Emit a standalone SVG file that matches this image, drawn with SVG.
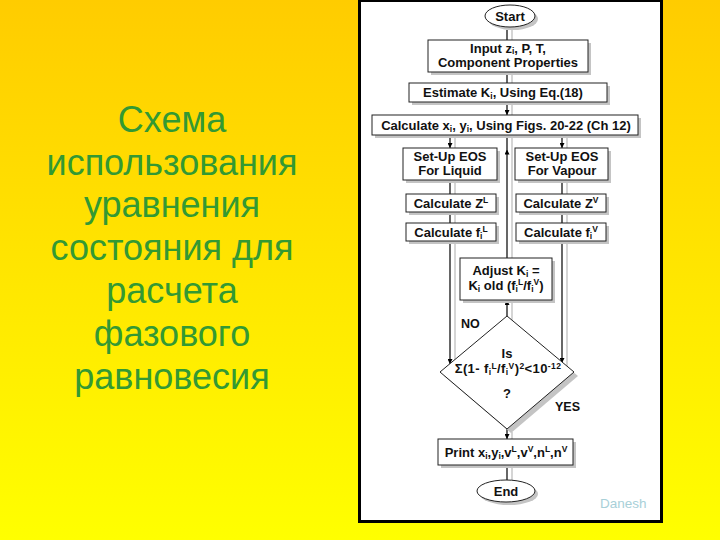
<svg xmlns="http://www.w3.org/2000/svg" width="720" height="540" viewBox="0 0 720 540">
<defs>
<linearGradient id="bg" x1="0" y1="0" x2="0" y2="1">
<stop offset="0" stop-color="#ffcc00"/>
<stop offset="1" stop-color="#ffff00"/>
</linearGradient>
<marker id="ah" viewBox="0 0 10 10" refX="10" refY="5" markerWidth="5" markerHeight="5" orient="auto" markerUnits="userSpaceOnUse">
<path d="M0,0 L10,5 L0,10 z" fill="#000"/>
</marker>
<marker id="ahm" viewBox="0 0 10 10" refX="5" refY="5" markerWidth="5" markerHeight="5" orient="auto" markerUnits="userSpaceOnUse">
<path d="M0,0 L10,5 L0,10 z" fill="#000"/>
</marker>
</defs>
<style>
.title{font-family:"Liberation Sans",Arial,sans-serif;font-size:36px;fill:#339933;text-anchor:middle}
.t{font-family:"Liberation Sans",Arial,sans-serif;font-size:13px;font-weight:bold;fill:#111;text-anchor:middle}
.box{fill:#fff;stroke:#222;stroke-width:1}
.sh{fill:#c4c4c4;stroke:none}
.ln{stroke:#000;stroke-width:1.2;fill:none}
.sl{stroke:#c8c8c8;stroke-width:1.5;fill:none}
.sub{font-size:8.5px}
.lbl{font-family:"Liberation Sans",Arial,sans-serif;font-size:12.5px;font-weight:bold;fill:#111}
</style>
<rect x="0" y="0" width="720" height="540" fill="url(#bg)"/>
<g id="title">
<text class="title" x="172" y="132">Схема</text>
<text class="title" x="172" y="175">использования</text>
<text class="title" x="172" y="217">уравнения</text>
<text class="title" x="172" y="260">состояния для</text>
<text class="title" x="172" y="303">расчета</text>
<text class="title" x="172" y="346">фазового</text>
<text class="title" x="172" y="389">равновесия</text>
</g>
<rect id="panel" x="359.5" y="0.5" width="302" height="521" fill="#fff" stroke="#000" stroke-width="3"/>
<g id="connectors">
<g class="shadows">
<path class="sl" d="M512,30 V115 M455,138 V150 M455,183 V366 M567,138 V150 M567,183 V366 M512,138 V258 M512,302 V320 M512,432 V440 M512,468 V481"/>
</g>
<path class="ln" d="M507,30 V40 M507,72 V83"/>
<path class="ln" d="M507,102 V115" marker-end="url(#ah)"/>
<path class="ln" d="M450,135 V148" marker-end="url(#ah)"/>
<path class="ln" d="M450,180 V364" marker-end="url(#ah)"/>
<path class="ln" d="M562,135 V148" marker-end="url(#ah)"/>
<path class="ln" d="M562,180 V363" marker-end="url(#ah)"/>
<path class="ln" d="M507,316 V300" marker-end="url(#ah)"/>
<path class="ln" d="M507,258 L507,152 L507,135" marker-mid="url(#ahm)"/>
<path class="ln" d="M507,429 V439" marker-end="url(#ah)"/>
<path class="ln" d="M507,465 V480"/>
</g>
<g id="start">
<ellipse class="sh" cx="513" cy="19" rx="25" ry="11"/>
<ellipse class="box" cx="510" cy="16" rx="25" ry="11"/>
<text class="t" x="510" y="21">Start</text>
</g>
<g id="input">
<rect class="sh" x="431" y="43" width="160" height="32"/>
<rect class="box" x="428" y="40" width="160" height="32"/>
<text class="t" x="508" y="52.5">Input z<tspan class="sub" dy="1.5">i</tspan><tspan dy="-1.5">, P, T,</tspan></text>
<text class="t" x="508" y="67">Component Properties</text>
</g>
<g id="estimate">
<rect class="sh" x="412" y="86" width="198" height="19"/>
<rect class="box" x="409" y="83" width="198" height="19"/>
<text class="t" x="503" y="97">Estimate K<tspan class="sub" dy="2">i</tspan><tspan dy="-2">, Using Eq.(18)</tspan></text>
</g>
<g id="calc">
<rect class="sh" x="375" y="118" width="266" height="20"/>
<rect class="box" x="372" y="115" width="266" height="20"/>
<text class="t" x="506" y="130">Calculate x<tspan class="sub" dy="2">i</tspan><tspan dy="-2">, y</tspan><tspan class="sub" dy="2">i</tspan><tspan dy="-2">, Using Figs. 20-22 (Ch 12)</tspan></text>
</g>
<g id="eosL">
<rect class="sh" x="406" y="151" width="94" height="32"/>
<rect class="box" x="403" y="148" width="94" height="32"/>
<text class="t" x="450" y="161">Set-Up EOS</text>
<text class="t" x="450" y="175">For Liquid</text>
</g>
<g id="eosV">
<rect class="sh" x="518" y="151" width="93" height="32"/>
<rect class="box" x="515" y="148" width="93" height="32"/>
<text class="t" x="562" y="161">Set-Up EOS</text>
<text class="t" x="562" y="175">For Vapour</text>
</g>
<g id="zL">
<rect class="sh" x="409" y="197" width="90" height="18"/>
<rect class="box" x="406" y="194" width="90" height="18"/>
<text class="t" x="451" y="208">Calculate Z<tspan class="sub" dy="-5">L</tspan></text>
</g>
<g id="zV">
<rect class="sh" x="519" y="197" width="90" height="18"/>
<rect class="box" x="516" y="194" width="90" height="18"/>
<text class="t" x="561" y="208">Calculate Z<tspan class="sub" dy="-5">V</tspan></text>
</g>
<g id="fL">
<rect class="sh" x="409" y="226" width="90" height="18"/>
<rect class="box" x="406" y="223" width="90" height="18"/>
<text class="t" x="451" y="237">Calculate f<tspan class="sub" dy="2">i</tspan><tspan class="sub" dy="-7">L</tspan></text>
</g>
<g id="fV">
<rect class="sh" x="519" y="226" width="90" height="18"/>
<rect class="box" x="516" y="223" width="90" height="18"/>
<text class="t" x="561" y="237">Calculate f<tspan class="sub" dy="2">i</tspan><tspan class="sub" dy="-7">V</tspan></text>
</g>
<g id="adjust">
<rect class="sh" x="463" y="261" width="92" height="42"/>
<rect class="box" x="460" y="258" width="92" height="42"/>
<text class="t" x="506" y="275">Adjust K<tspan class="sub" dy="2">i</tspan><tspan dy="-2"> =</tspan></text>
<text class="t" x="506" y="290">K<tspan class="sub" dy="2">i</tspan><tspan dy="-2"> old (f</tspan><tspan class="sub" dy="2">i</tspan><tspan class="sub" dy="-7">L</tspan><tspan dy="5">/f</tspan><tspan class="sub" dy="2">i</tspan><tspan class="sub" dy="-7">V</tspan><tspan dy="5">)</tspan></text>
</g>
<g id="decision">
<polygon class="sh" points="511,320 578,376 511,433 444,376"/>
<polygon class="box" points="507,316 574,372 507,429 440,372"/>
<text class="t" x="507" y="358">Is</text>
<text class="t" x="508" y="373" letter-spacing="0.4">Σ(1- f<tspan class="sub" dy="2">i</tspan><tspan class="sub" dy="-6.5">L</tspan><tspan dy="4.5">/f</tspan><tspan class="sub" dy="2">i</tspan><tspan class="sub" dy="-6.5">V</tspan><tspan dy="4.5">)</tspan><tspan class="sub" dy="-4.5">2</tspan><tspan dy="4.5">&lt;10</tspan><tspan class="sub" dy="-4.5">-12</tspan></text>
<text class="t" x="507" y="398">?</text>
</g>
<text class="lbl" x="461" y="328">NO</text>
<text class="lbl" x="555" y="411">YES</text>
<g id="print">
<rect class="sh" x="441" y="442" width="135" height="26"/>
<rect class="box" x="438" y="439" width="135" height="26"/>
<text class="t" x="506" y="457">Print  x<tspan class="sub" dy="2">i</tspan><tspan dy="-2">,y</tspan><tspan class="sub" dy="2">i</tspan><tspan dy="-2">,v</tspan><tspan class="sub" dy="-5">L</tspan><tspan dy="5">,v</tspan><tspan class="sub" dy="-5">V</tspan><tspan dy="5">,n</tspan><tspan class="sub" dy="-5">L</tspan><tspan dy="5">,n</tspan><tspan class="sub" dy="-5">V</tspan></text>
</g>
<g id="end">
<ellipse class="sh" cx="509" cy="494" rx="29" ry="11"/>
<ellipse class="box" cx="506" cy="491" rx="29" ry="11"/>
<text class="t" x="506" y="496">End</text>
</g>
<text x="600" y="508" font-family="Liberation Sans, Arial, sans-serif" font-size="13.5" fill="#a8d0d8">Danesh</text>
</svg>
